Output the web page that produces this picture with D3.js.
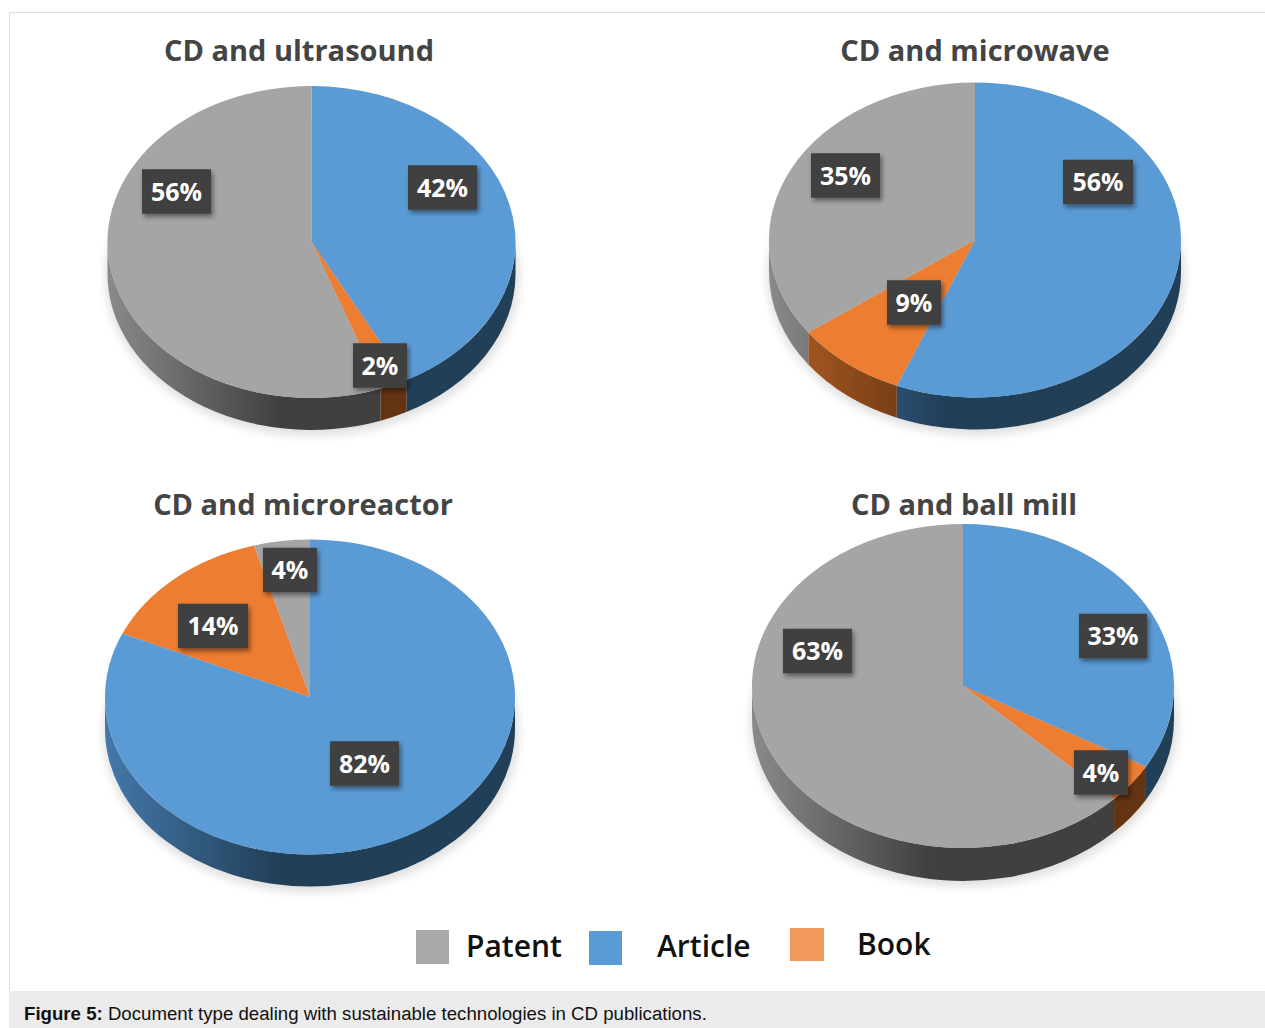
<!doctype html>
<html>
<head>
<meta charset="utf-8">
<title>Figure 5</title>
<style>
html, body { margin: 0; padding: 0; background: #fff; overflow: hidden; }
svg { display: block; }
.title { font-family: "Open Sans", sans-serif; font-weight: 700; font-size: 29px; fill: #444; text-anchor: middle; }
.pct { font-family: "Open Sans", sans-serif; font-weight: 700; font-size: 25px; fill: #fff; text-anchor: middle; }
.legend { font-family: "Open Sans", sans-serif; font-weight: 600; font-size: 30px; fill: #111; }
.caption { font-family: "Liberation Sans", Arial, sans-serif; font-size: 18.65px; fill: #111; }
</style>
</head>
<body>
<svg id="chart" width="1265" height="1028"></svg>
<script src="https://d3js.org/d3.v7.min.js"></script>
<script>
// values (percent), same order in every pie
// slice edges were measured, so they carry a decimal; the boxes show them rounded
var categories = ["Article", "Book", "Patent"];
var titles = ["CD and ultrasound", "CD and microwave", "CD and microreactor", "CD and ball mill"];
var ultrasound = [42.3, 2.2, 55.5];
var microwave = [56.2, 8.8, 35];
var microreactor = [81.6, 14, 4.4];
var ballMill = [33.3, 4, 62.7];
var legendOrder = ["Patent", "Article", "Book"];

var svg = d3.select("#chart");
var defs = svg.append("defs");

var topColor = d3.scaleOrdinal().domain(categories).range(["#5b9bd5", "#ed7d31", "#a5a5a5"]);
var sideLight = d3.scaleOrdinal().domain(categories).range(["#4478aa", "#b25e24", "#8a8a8a"]);
var sideDark = d3.scaleOrdinal().domain(categories).range(["#223f58", "#643412", "#404040"]);
var legendColor = d3.scaleOrdinal().domain(categories).range(["#5b9bd5", "#f2995c", "#aaa9a7"]);

// page furniture
svg.append("path").attr("d", "M9.5,991V12.5H1265").attr("fill", "none").attr("stroke", "#ddd");
svg.append("rect").attr("x", 9).attr("y", 991).attr("width", 1256).attr("height", 37).attr("fill", "#ebebeb");

var blur = defs.append("filter").attr("id", "soft").attr("x", "-20%").attr("y", "-20%").attr("width", "140%").attr("height", "140%");
blur.append("feGaussianBlur").attr("stdDeviation", 5);
var boxShadow = defs.append("filter").attr("id", "boxShadow").attr("x", "-30%").attr("y", "-30%").attr("width", "170%").attr("height", "170%");
boxShadow.append("feDropShadow").attr("dx", 2).attr("dy", 3).attr("stdDeviation", 2.5)
  .attr("flood-color", "#000").attr("flood-opacity", 0.45);

// where each pie and its labels sit on the page
var panels = [
  { values: ultrasound, title: titles[0], titleX: 299, titleY: 61, cx: 311.5, cy: 242, rx: 204, ry: 156, depth: 32,
    labels: [[442.5, 187.5, 69], [380, 365.5, 54], [176.5, 191.5, 69]] },
  { values: microwave, title: titles[1], titleX: 975, titleY: 61, cx: 975, cy: 240, rx: 206, ry: 157.5, depth: 32,
    labels: [[1098, 182, 70], [914, 302.5, 54], [845.5, 175.5, 69]] },
  { values: microreactor, title: titles[2], titleX: 303, titleY: 515, cx: 310, cy: 697, rx: 205, ry: 157.5, depth: 32,
    labels: [[364.5, 763.5, 69], [213, 626, 70], [290, 570, 54]] },
  { values: ballMill, title: titles[3], titleX: 964, titleY: 515, cx: 963, cy: 686, rx: 211, ry: 162, depth: 33,
    labels: [[1113, 636, 68], [1101, 772.5, 54], [817.5, 651, 69]] }
];

var pie = d3.pie().sort(null);
var boxH = 44.5;

panels.forEach(function(p, pi) {
  var g = svg.append("g").attr("class", "panel");
  var slices = pie(p.values);
  slices.forEach(function(s, i) { s.cat = categories[i]; });

  // side wall gradients run across the whole pie
  categories.forEach(function(c, ci) {
    var grad = defs.append("linearGradient").attr("id", "side" + pi + "-" + ci)
      .attr("gradientUnits", "userSpaceOnUse")
      .attr("x1", p.cx - p.rx).attr("x2", p.cx + p.rx).attr("y1", 0).attr("y2", 0);
    grad.append("stop").attr("offset", 0).attr("stop-color", sideLight(c));
    grad.append("stop").attr("offset", 0.42).attr("stop-color", sideDark(c));
    grad.append("stop").attr("offset", 1).attr("stop-color", sideDark(c));
  });

  // soft shadow under the disc
  g.append("ellipse").attr("cx", p.cx + 1).attr("cy", p.cy + p.depth + 3)
    .attr("rx", p.rx + 3).attr("ry", p.ry + 3)
    .attr("fill", "#000").attr("opacity", 0.12).attr("filter", "url(#soft)");

  function ex(a) { return p.cx + p.rx * Math.sin(a); }
  function ey(a) { return p.cy - p.ry * Math.cos(a); }

  // only the front half of the rim is visible
  g.selectAll("path.side").data(slices).enter()
    .filter(function(d) { return d.endAngle > Math.PI / 2 && d.startAngle < 3 * Math.PI / 2; })
    .append("path").attr("class", "side")
    .attr("fill", function(d) { return "url(#side" + pi + "-" + categories.indexOf(d.cat) + ")"; })
    .attr("d", function(d) {
      var a0 = Math.max(d.startAngle, Math.PI / 2), a1 = Math.min(d.endAngle, 3 * Math.PI / 2);
      return "M" + ex(a0) + "," + ey(a0) +
        "A" + p.rx + "," + p.ry + " 0 0 1 " + ex(a1) + "," + ey(a1) +
        "V" + (ey(a1) + p.depth) +
        "A" + p.rx + "," + p.ry + " 0 0 0 " + ex(a0) + "," + (ey(a0) + p.depth) + "Z";
    });

  // top face: a flat d3 pie squashed into an ellipse
  var arc = d3.arc().innerRadius(0).outerRadius(p.rx);
  g.append("g").attr("transform", "translate(" + p.cx + "," + p.cy + ") scale(1," + (p.ry / p.rx) + ")")
    .selectAll("path").data(slices).enter().append("path")
    .attr("d", arc)
    .attr("fill", function(d) { return topColor(d.cat); });

  g.append("text").attr("class", "title").attr("x", p.titleX).attr("y", p.titleY).text(p.title);

  // percentage boxes
  slices.forEach(function(s, i) {
    var l = p.labels[i];
    g.append("rect").attr("x", l[0] - l[2] / 2).attr("y", l[1] - boxH / 2)
      .attr("width", l[2]).attr("height", boxH)
      .attr("fill", "#404040").attr("filter", "url(#boxShadow)");
    g.append("text").attr("class", "pct").attr("x", l[0]).attr("y", l[1] + 9).text(Math.round(s.data) + "%");
  });
});

// legend, items are not on a common baseline in the original
var legendPos = {
  Patent: { x: 416, y: 930, w: 33, h: 34, tx: 466, ty: 957 },
  Article: { x: 589, y: 931, w: 33, h: 34, tx: 657, ty: 957 },
  Book: { x: 790, y: 928, w: 34, h: 33, tx: 857, ty: 955 }
};
legendOrder.forEach(function(name) {
  var q = legendPos[name];
  svg.append("rect").attr("x", q.x).attr("y", q.y).attr("width", q.w).attr("height", q.h).attr("fill", legendColor(name));
  svg.append("text").attr("class", "legend").attr("x", q.tx).attr("y", q.ty).text(name);
});

var cap = svg.append("text").attr("class", "caption").attr("x", 24).attr("y", 1020);
cap.append("tspan").attr("font-weight", "bold").text("Figure 5:");
cap.append("tspan").text(" Document type dealing with sustainable technologies in CD publications.");
</script>
</body>
</html>
